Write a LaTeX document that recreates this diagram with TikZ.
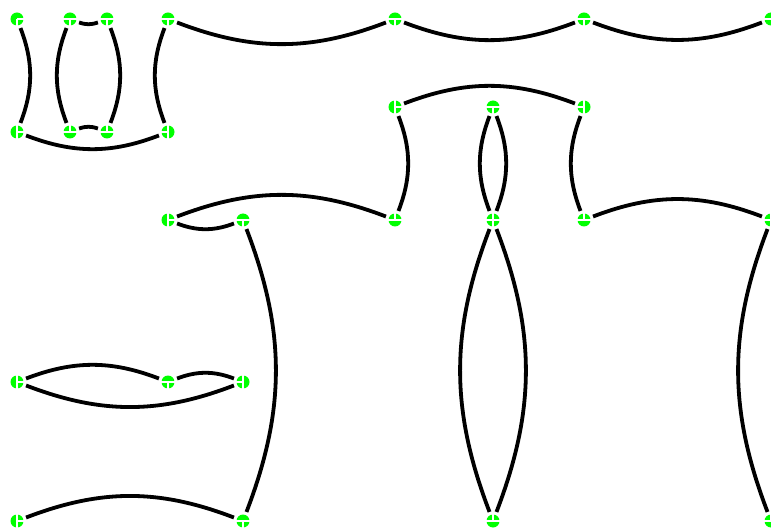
\documentclass[tikz,border=0pt]{standalone}
\begin{document}
\begin{tikzpicture}[x={(1pt,0)},y={(0,-1pt)},
  vert/.style={circle,fill={rgb,255:red,0;green,255;blue,0},draw=none,minimum size=13pt,inner sep=0pt},
  spoke/.style={white,line width=1.4pt},
  edge/.style={black,line width=3.8pt,shorten >=3pt,shorten <=3pt},
  bl/.style={bend left=21}, br/.style={bend right=21}]
\useasboundingbox (0,0) rectangle (771,529);
\fill[white] (0,0) rectangle (771,529);
% nodes
\node[vert] (A) at (17,19) {};
\node[vert] (B) at (70,19) {};
\node[vert] (C) at (107,19) {};
\node[vert] (D) at (168,19) {};
\node[vert] (E) at (395,19) {};
\node[vert] (F) at (584,19) {};
\node[vert] (G) at (771,19) {};
\node[vert] (H) at (17,132) {};
\node[vert] (I) at (70,132) {};
\node[vert] (J) at (107,132) {};
\node[vert] (K) at (168,132) {};
\node[vert] (L) at (395,107) {};
\node[vert] (M) at (493,107) {};
\node[vert] (N) at (584,107) {};
\node[vert] (O) at (168,220) {};
\node[vert] (P) at (243,220) {};
\node[vert] (Q) at (395,220) {};
\node[vert] (R) at (493,220) {};
\node[vert] (S) at (584,220) {};
\node[vert] (T) at (771,220) {};
\node[vert] (U) at (17,382) {};
\node[vert] (V) at (168,382) {};
\node[vert] (W) at (243,382) {};
\node[vert] (X) at (17,521) {};
\node[vert] (Y) at (243,521) {};
\node[vert] (Z) at (493,521) {};
\node[vert] (AA) at (771,521) {};
% spokes
\foreach \n/\a in {A/east,A/south,
  B/west,B/east,B/south, C/west,C/east,C/south, D/west,D/east,D/south,
  E/west,E/east,E/south, F/west,F/east,F/south, G/west,
  H/north,H/south,H/east, I/west,I/east,I/north, J/west,J/east,J/north,
  K/north,K/south,K/west, L/north,L/south,L/east, M/west,M/east,M/south,
  N/north,N/south,N/west, O/north,O/south,O/east, P/west,P/east,P/south,
  Q/west,Q/east,Q/north, R/west,R/east,R/north,R/south, S/west,S/east,S/north,
  T/west,T/north,T/south, U/north,U/south,U/east, V/west,V/east,V/south,
  W/north,W/south,W/west, X/north,X/south,X/east, Y/west,Y/east,Y/south,
  Z/west,Z/east,Z/north, AA/west,AA/north}
  \draw[spoke] (\n.center) -- (\n.\a);
% edges
\draw[edge] (A) to[bl] (H);
\draw[edge] (B) to[br] (I);
\draw[edge] (B) to[br] (C);
\draw[edge] (C) to[bl] (J);
\draw[edge] (I) to[bl] (J);
\draw[edge] (D) to[br] (K);
\draw[edge] (H) to[br] (K);
\draw[edge] (D) to[br] (E);
\draw[edge] (E) to[br] (F);
\draw[edge] (F) to[br] (G);
\draw[edge] (L) to[bl] (N);
\draw[edge] (L) to[bl] (Q);
\draw[edge] (M) to[bl] (R);
\draw[edge] (M) to[br] (R);
\draw[edge] (N) to[br] (S);
\draw[edge] (O) to[bl] (Q);
\draw[edge] (O) to[br] (P);
\draw[edge] (P) to[bl] (Y);
\draw[edge] (R) to[bl] (Z);
\draw[edge] (R) to[br] (Z);
\draw[edge] (S) to[bl] (T);
\draw[edge] (T) to[br] (AA);
\draw[edge] (U) to[bl] (V);
\draw[edge] (U) to[br] (W);
\draw[edge] (V) to[bl] (W);
\draw[edge] (X) to[bl] (Y);
\end{tikzpicture}
\end{document}
